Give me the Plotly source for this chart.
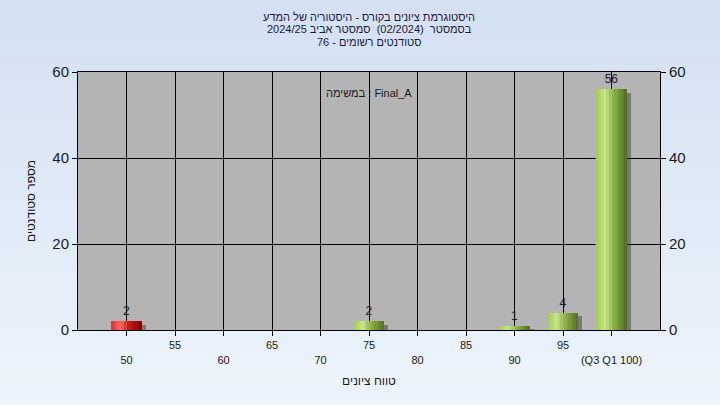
import plotly.graph_objects as go

# ---- data ----
grades = [50, 55, 60, 65, 70, 75, 80, 85, 90, 95, 100]
counts = [2, 0, 0, 0, 0, 2, 0, 0, 1, 4, 56]
tick_labels = ["50", "55", "60", "65", "70", "75", "80", "85", "90", "95", "(Q3 Q1 100)"]
fail_limit = 55

title_lines = [
    "היסטוגרמת ציונים בקורס - היסטוריה של המדע",
    "בסמסטר  (02/2024)  סמסטר אביב 2024/25",
    "סטודנטים רשומים - 76",
]
x_title = "טווח ציונים"
y_title = "מספר סטודנטים"
task_note = "במשימה : Final_A"

# ---- styling helpers ----
L, R, T, B = 78, 60, 72, 75
PW, PH = 720 - L - R, 405 - T - B


def lerp(c1, c2, t):
    return tuple(round(a + (b - a) * t) for a, b in zip(c1, c2))


def hexc(c):
    return "#%02x%02x%02x" % c


def ramp(stops, n):
    out = []
    for i in range(n):
        t = (i + 0.5) / n
        for j in range(len(stops) - 1):
            p0, c0 = stops[j]
            p1, c1 = stops[j + 1]
            if p0 <= t <= p1:
                out.append(hexc(lerp(c0, c1, (t - p0) / (p1 - p0))))
                break
    return out


NSTRIP = 12
green = ramp([(0, (160, 205, 70)), (0.3, (200, 228, 145)), (0.55, (140, 180, 70)), (1, (82, 106, 42))], NSTRIP)
red = ramp([(0, (255, 30, 30)), (0.3, (250, 110, 110)), (0.55, (200, 30, 30)), (1, (125, 0, 0))], NSTRIP)

BW = 3.1
sw = BW / NSTRIP

fig = go.Figure()

# shadow
fig.add_trace(go.Bar(
    x=grades, y=counts, base=-0.8, width=BW, offset=-BW / 2 + 0.45,
    marker=dict(color="rgba(60,60,60,0.5)", line=dict(width=0)),
    hoverinfo="skip", showlegend=False,
))

for i in range(NSTRIP):
    cols = [red[i] if g < fail_limit else green[i] for g in grades]
    fig.add_trace(go.Bar(
        x=grades, y=counts, width=sw * 1.05, offset=-BW / 2 + i * sw,
        marker=dict(color=cols, line=dict(width=0)),
        hoverinfo="skip", showlegend=False,
    ))

# value labels
fig.add_trace(go.Bar(
    x=grades, y=counts, width=BW,
    marker=dict(color="rgba(0,0,0,0)", line=dict(width=0)),
    text=[str(c) if c else "" for c in counts], textposition="outside",
    textfont=dict(size=12, color="#202020", family="Liberation Sans"),
    cliponaxis=False, showlegend=False, hoverinfo="skip",
))

# right axis carrier
fig.add_trace(go.Scatter(x=[grades[0]], y=[0], yaxis="y2", mode="markers",
                         marker=dict(opacity=0), showlegend=False, hoverinfo="skip"))

# background gradient
shapes = []
NB = 40
for i in range(NB):
    c = hexc(lerp((212, 225, 242), (236, 244, 252), i / (NB - 1)))
    y1 = 1 + T / PH - i * (405 / PH) / NB
    y0 = y1 - (405 / PH) / NB - 0.002
    shapes.append(dict(type="rect", xref="paper", yref="paper", x0=-L / PW, x1=1 + R / PW,
                       y0=y0, y1=y1, fillcolor=c, line=dict(width=0), layer="below"))
shapes.append(dict(type="rect", xref="paper", yref="paper", x0=0, x1=1, y0=0, y1=1,
                   fillcolor="#b4b4b4", line=dict(width=0), layer="below"))

ticktext = [("<br>" + t) if i % 2 == 0 else t for i, t in enumerate(tick_labels)]

annotations = [dict(text=task_note, xref="paper", yref="paper", x=0.5, y=0.95,
                    showarrow=False, font=dict(size=11, color="#1a1a1a"))]
for k, line in enumerate(title_lines):
    ypix = 17 + k * 12.5
    annotations.append(dict(text=line, xref="paper", yref="paper", x=0.5,
                            y=1 + (T - ypix) / PH, xanchor="center", yanchor="middle",
                            showarrow=False, font=dict(size=11, color="#1a1a40")))

fig.update_layout(
    width=720, height=405,
    margin=dict(l=L, r=R, t=T, b=B, autoexpand=False),
    paper_bgcolor="#e4edf8", plot_bgcolor="#b4b4b4",
    barmode="overlay", bargap=0,
    shapes=shapes,
    font=dict(family="Liberation Sans", color="#1a1a1a"),
    xaxis=dict(range=[45, 105], tickvals=grades, ticktext=ticktext, showgrid=True,
               gridcolor="black", gridwidth=1, ticks="outside", ticklen=5, tickcolor="black",
               showline=True, linecolor="black", mirror=True, zeroline=False, automargin=False,
               tickfont=dict(size=11), title=dict(text=x_title, font=dict(size=12), standoff=12)),
    yaxis=dict(range=[0, 60], tickvals=[0, 20, 40, 60], showgrid=True, gridcolor="black",
               ticks="outside", ticklen=5, tickcolor="black", showline=True, linecolor="black",
               mirror=True, zeroline=False, tickfont=dict(size=15), automargin=False,
               title=dict(text=y_title, font=dict(size=12), standoff=14)),
    yaxis2=dict(range=[0, 60], tickvals=[0, 20, 40, 60], overlaying="y", side="right",
                showgrid=False, ticks="outside", ticklen=5, tickcolor="black", zeroline=False,
                tickfont=dict(size=15), showline=False, automargin=False),
    annotations=annotations,
)

fig.write_html("out.html", config={"displayModeBar": False},
               post_script="document.body.style.margin='0';document.body.style.overflow='hidden';")
